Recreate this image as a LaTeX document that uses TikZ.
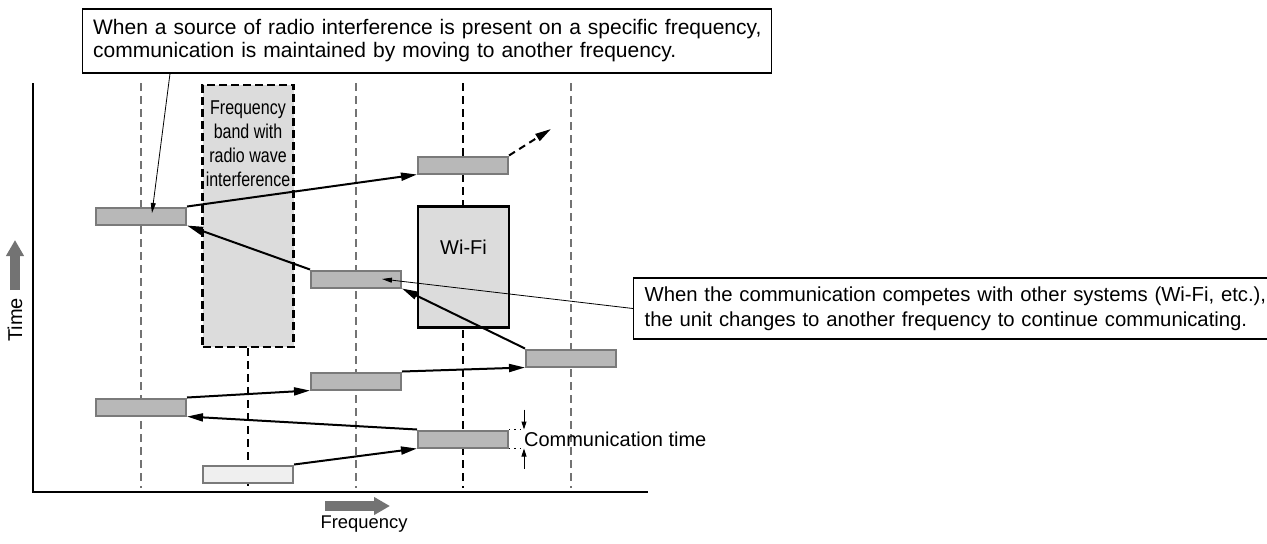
\documentclass[tikz,border=0pt]{standalone}
\usepackage{fontspec}
\setmainfont{Liberation Sans}
\newfontfamily\angosta[FakeStretch=0.8]{Liberation Sans}
\usetikzlibrary{
	arrows.meta,
	positioning,
	calc
}
\definecolor{canalfondo}{HTML}{B8B8B8}
\definecolor{canalborde}{HTML}{7A7A7A}
\definecolor{bandafondo}{HTML}{DCDCDC}
\definecolor{librefondo}{HTML}{EFEFEF}
\definecolor{ejegris}{HTML}{737373}

\begin{document}
\begin{tikzpicture}[x=0.5pt, y=-0.5pt,
  font=\fontsize{10}{12}\selectfont,
  canal/.style={rectangle, draw=canalborde, fill=canalfondo, line width=1pt,
    minimum width=45pt, minimum height=8.5pt, inner sep=0pt},
  banda/.style={rectangle, draw, fill=bandafondo, line width=1.2pt,
    dash pattern=on 4pt off 2pt, minimum width=45.5pt, minimum height=131pt},
  wifi/.style={rectangle, draw, fill=bandafondo, line width=1.2pt,
    minimum width=45.5pt, minimum height=60.5pt},
  nota/.style={rectangle, draw, line width=0.6pt, align=left, anchor=west},
  salto/.style={-{Triangle[length=8pt,width=4pt]}, line width=1pt},
  guia/.style={-{Triangle[length=5pt,width=2.5pt]}, line width=0.4pt},
  cota/.style={-{Triangle[length=4pt,width=2.5pt]}, line width=0.5pt},
  rejilla/.style={dash pattern=on 4pt off 2.5pt, line width=0.55pt},
  flecha/.style={-{Triangle[length=8pt,width=8.5pt]}, line width=5pt, draw=ejegris}
]
\useasboundingbox (0,0) rectangle (1267,543);

\foreach \x/\tono in {141/ejegris, 356/ejegris, 571/ejegris, 463/black}
  \draw[rejilla, draw=\tono] (\x,83) -- (\x,488);
\draw[rejilla] (248,348) -- (248,488);
\draw[line width=0.7pt] (33,83) -- (33,492) -- (648,492);

\node[banda] (banda) at (248,216) {};
\node[font=\angosta\fontsize{10}{12}\selectfont, align=center] (bandaTexto)
  at (248,144) {Frequency\\band with\\radio wave\\interference};
\node[wifi] (wifi) at (463.5,267) {};
\node (wifiTexto) at (463.5,247) {Wi-Fi};

\foreach \nombre/\x/\y in {b1/141/216, b2/463/165, b3/356/279, b4/571/358,
  b5/356/381, b6/141/407, b7/463/439}
  \node[canal] (\nombre) at (\x,\y) {};
\node[canal, fill=librefondo] (b8) at (248,474) {};

\foreach \desde/\hasta in {b8.north east/b7.south west, b7.north west/b6.south east,
  b6.north east/b5.south west, b5.north east/b4.south west,
  b4.north west/b3.south east, b3.north west/b1.south east,
  b1.north east/b2.south west}
  \draw[salto] (\desde) -- (\hasta);
\coordinate (sigue) at (551,129);
\draw[salto, dash pattern=on 3.5pt off 2.5pt] (b2.north east) -- (sigue);

\node[nota, text width=334pt, inner xsep=5.25pt, minimum height=32pt,
  font=\fontsize{10.5}{11.5}\selectfont] (notaArriba) at (82,41)
  {\mbox{When a source of radio interference is present on a specific frequency,}\\
   \mbox{communication is maintained by moving to another frequency.}};
\node[nota, text width=310pt, inner xsep=5.5pt, minimum height=30.5pt,
  font=\fontsize{10.15}{12.4}\selectfont] (notaDerecha) at (633,308.5)
  {\mbox{When the communication competes with other systems (Wi-Fi, etc.),}\\
   \mbox{the unit changes to another frequency to continue communicating.}};
\draw[guia] (notaArriba.south west -| 170,0) -- ([xshift=5.5pt,yshift=1.5pt]b1.center);
\draw[guia] (notaDerecha.west) -- ([xshift=13pt]b3.center);

\draw[dotted, line width=0.7pt] (b7.north east) -- ++(8pt,0);
\draw[dotted, line width=0.7pt] (b7.south east) -- ++(8pt,0);
\draw[cota] ([shift={(7.5pt,10pt)}]b7.north east) -- ([xshift=7.5pt]b7.north east);
\draw[cota] ([shift={(7.5pt,-10pt)}]b7.south east) -- ([xshift=7.5pt]b7.south east);
\node[anchor=west] (tiempo) at ([xshift=4pt]b7.east) {Communication time};

\draw[flecha] (15,290) -- (15,240);
\node[rotate=90] (ejeTiempo) at (15,320) {Time};
\draw[flecha] (325,506) -- (390,506);
\node[font=\fontsize{9.2}{11}\selectfont] (ejeFrecuencia) at (364,524) {Frequency};
\end{tikzpicture}
\end{document}
